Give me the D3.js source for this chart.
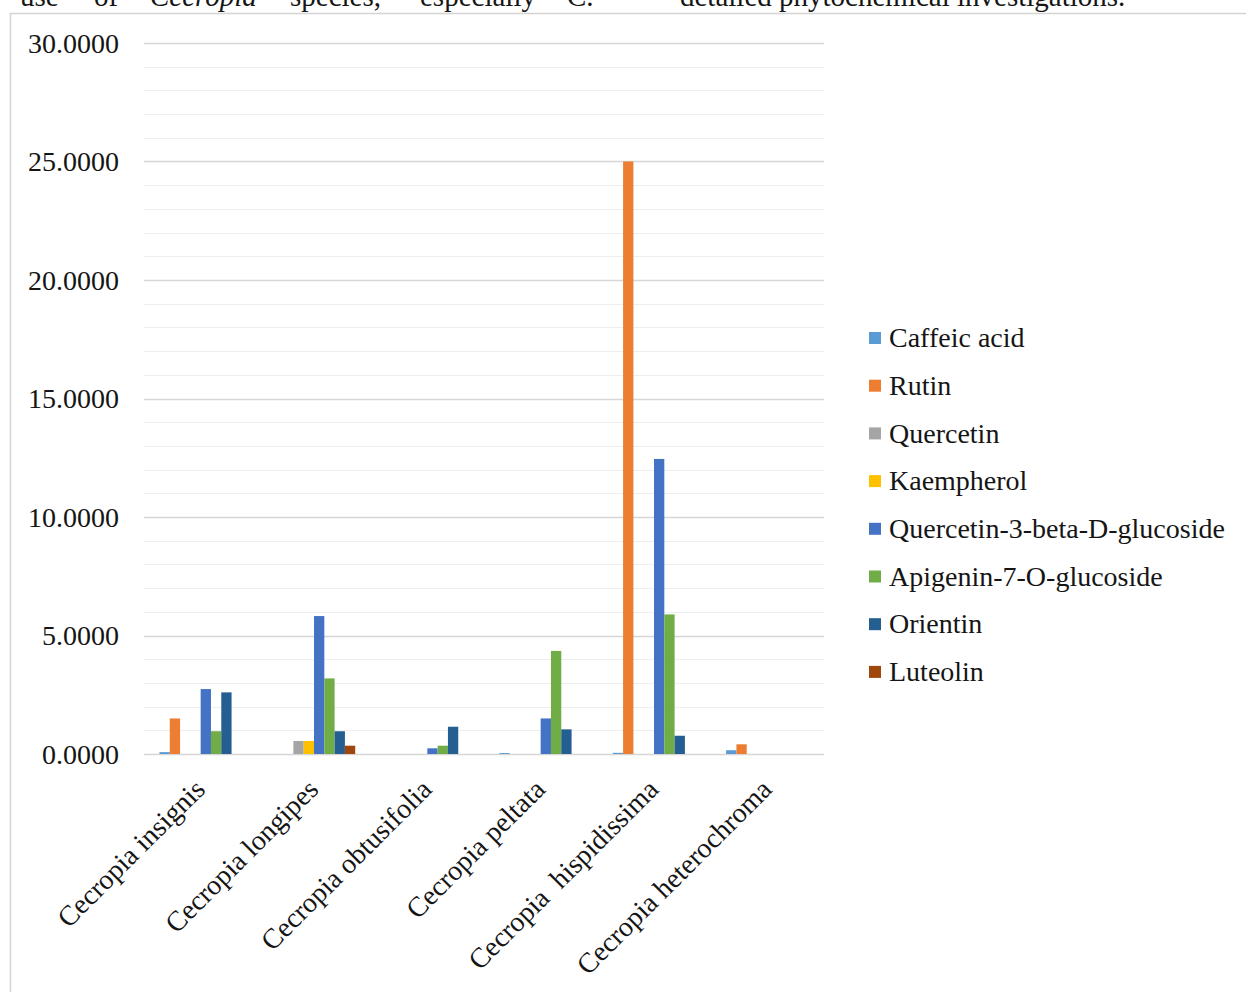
<!DOCTYPE html>
<html>
<head>
<meta charset="utf-8">
<script src="https://cdn.jsdelivr.net/npm/d3@7"></script>
<style>
  html, body { margin: 0; padding: 0; background: #fff; }
  svg { display: block; }
  text { font-family: "Liberation Serif", "Times New Roman", serif; fill: #151515; white-space: pre; }
</style>
</head>
<body>
<svg id="chart" width="1246" height="992"></svg>
<script>
// Species (x categories)
const categories = [
  "Cecropia insignis",
  "Cecropia longipes",
  "Cecropia obtusifolia",
  "Cecropia peltata",
  "Cecropia  hispidissima",
  "Cecropia heterochroma"
];

// Compound names (series) and their fill colours
const seriesNames = [
  "Caffeic acid",
  "Rutin",
  "Quercetin",
  "Kaempherol",
  "Quercetin-3-beta-D-glucoside",
  "Apigenin-7-O-glucoside",
  "Orientin",
  "Luteolin"
];
const seriesColors = ["#5B9BD5", "#ED7D31", "#A5A5A5", "#FFC000", "#4472C4", "#70AD47", "#255E91", "#9E480E"];

// Content per species, one array per compound (same order as categories)
const caffeicAcid = [0.08, 0, 0, 0.04, 0.05, 0.16];
const rutin       = [1.50, 0, 0, 0, 25.00, 0.41];
const quercetin   = [0, 0.55, 0, 0, 0, 0];
const kaempherol  = [0, 0.55, 0, 0, 0, 0];
const q3Glucoside = [2.74, 5.82, 0.24, 1.50, 12.45, 0];
const a7Glucoside = [0.96, 3.19, 0.35, 4.35, 5.89, 0];
const orientin    = [2.60, 0.96, 1.15, 1.04, 0.77, 0];
const luteolin    = [0, 0.35, 0, 0, 0, 0];

// Y axis tick values
const majorTicks = [0, 5, 10, 15, 20, 25, 30];
const minorTicks = d3.range(0, 31, 1);

const seriesValues = [caffeicAcid, rutin, quercetin, kaempherol, q3Glucoside, a7Glucoside, orientin, luteolin];

const svg = d3.select("#chart");

// Surrounding page text (the line runs past the top edge)
const pageText = svg.append("g").attr("font-size", 29);
const words = [
  { t: "use", x: 20 },
  { t: "of", x: 94 },
  { t: "Cecropia", x: 150, italic: true },
  { t: "species,", x: 290 },
  { t: "especially", x: 420 },
  { t: "C.", x: 567 },
  { t: "detailed phytochemical investigations.", x: 680 }
];
pageText.selectAll("text").data(words).join("text")
  .attr("x", d => d.x).attr("y", 6)
  .attr("font-style", d => d.italic ? "italic" : null)
  .text(d => d.t);

// Chart frame (top and left edges visible)
svg.append("path")
  .attr("d", "M10.5,992 L10.5,13.5 L1246,13.5")
  .attr("fill", "none").attr("stroke", "#d4d4d4").attr("stroke-width", 1.5);

const plot = { left: 144, right: 824, top: 43, bottom: 754 };

const x0 = d3.scaleBand().domain(categories).range([plot.left, plot.right]).paddingInner(0).paddingOuter(0);
const x1 = d3.scaleBand().domain(d3.range(seriesNames.length)).range([0, x0.bandwidth()]).paddingInner(0).paddingOuter(1.5);
const y = d3.scaleLinear().domain([0, 30]).range([plot.bottom, plot.top]);

// Minor and major gridlines
svg.append("g").selectAll("line").data(minorTicks.filter(v => v % 5 !== 0)).join("line")
  .attr("x1", plot.left).attr("x2", plot.right)
  .attr("y1", d => Math.round(y(d)) + 0.5).attr("y2", d => Math.round(y(d)) + 0.5)
  .attr("stroke", "#eeeeee").attr("stroke-width", 1);

svg.append("g").selectAll("line").data(majorTicks).join("line")
  .attr("x1", plot.left).attr("x2", plot.right)
  .attr("y1", d => Math.round(y(d)) + 0.5).attr("y2", d => Math.round(y(d)) + 0.5)
  .attr("stroke", "#d6d6d6").attr("stroke-width", 1.3);

// Y axis labels
const yAxis = d3.axisLeft(y).tickValues(majorTicks).tickFormat(d3.format(".4f")).tickSize(0).tickPadding(0);
const yG = svg.append("g").attr("transform", `translate(119,0)`).call(yAxis);
yG.select(".domain").remove();
yG.selectAll("text").attr("font-size", 28).attr("fill", "#151515")
  .attr("font-family", "Liberation Serif, Times New Roman, serif").attr("dy", "0.33em");

// Bars
const groups = svg.append("g").selectAll("g").data(categories).join("g")
  .attr("transform", d => `translate(${x0(d)},0)`);
groups.selectAll("rect")
  .data((c, ci) => seriesValues.map((vals, si) => ({ si, v: vals[ci] })))
  .join("rect")
  .attr("x", d => x1(d.si))
  .attr("width", x1.bandwidth())
  .attr("y", d => y(d.v))
  .attr("height", d => y(0) - y(d.v))
  .attr("fill", d => seriesColors[d.si]);

// X axis labels, rotated
const xAxis = d3.axisBottom(x0).tickSize(0).tickPadding(0);
const xG = svg.append("g").attr("transform", `translate(0,${plot.bottom})`).call(xAxis);
xG.select(".domain").remove();
xG.selectAll("text")
  .attr("font-size", 28).attr("fill", "#151515")
  .attr("font-family", "Liberation Serif, Times New Roman, serif")
  .attr("text-anchor", "end")
  .attr("dy", null).attr("y", null)
  .attr("transform", "translate(6,37) rotate(-45)");

// Legend
const legend = svg.append("g").attr("transform", "translate(869,338)");
const items = legend.selectAll("g").data(seriesNames).join("g")
  .attr("transform", (d, i) => `translate(0,${i * 47.7})`);
items.append("rect").attr("x", 0).attr("y", -6).attr("width", 12).attr("height", 12)
  .attr("fill", (d, i) => seriesColors[i]);
items.append("text").attr("x", 20).attr("y", 0).attr("dy", "0.33em")
  .attr("font-size", 28).text(d => d);
</script>
</body>
</html>
